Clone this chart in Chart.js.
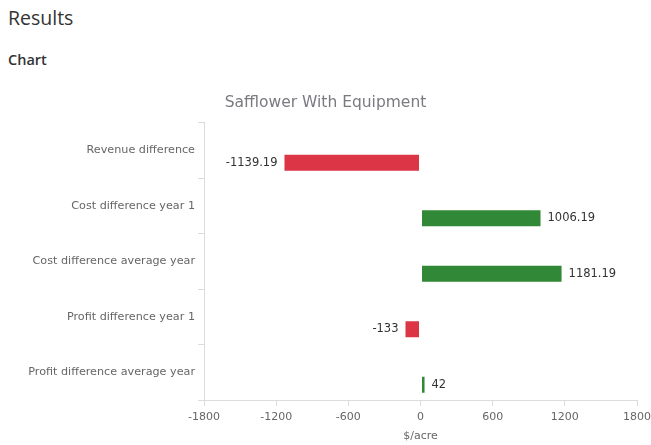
<!DOCTYPE html>
<html>
<head>
<meta charset="utf-8">
<script src="https://cdn.jsdelivr.net/npm/chart.js@4.4.0/dist/chart.umd.min.js"></script>
<style>
  html, body { margin: 0; padding: 0; background: #fff; overflow: hidden; width: 651px; height: 445px; }
  .head { position: absolute; left: 8px; top: 4px; font-family: "Open Sans", sans-serif; font-size: 19.5px; line-height: 28px; color: #333; }
  .sub { position: absolute; left: 8px; top: 50px; font-family: "Open Sans", sans-serif; font-size: 14.5px; font-weight: 600; line-height: 20px; color: #333; }
  #wrap { position: absolute; left: 0; top: 88px; width: 651px; height: 357px; }
</style>
</head>
<body>
<div class="head">Results</div>
<div class="sub">Chart</div>
<div id="wrap"><canvas id="resultChart"></canvas></div>
<script>
// chart data
const categories = ['Revenue difference', 'Cost difference year 1', 'Cost difference average year', 'Profit difference year 1', 'Profit difference average year'];
const diffValues = [-1139.19, 1006.19, 1181.19, -133, 42];
const xTicks = [-1800, -1200, -600, 0, 600, 1200, 1800];
const chartTitle = 'Safflower With Equipment';
const axisTitle = '$/acre';

const RED = '#dc3545';
const GREEN = '#318836';
const FONT = 'DejaVu Sans';

// empty first slot keeps the bars in the lower half of each band, like the original
const emptySlot = categories.map(() => null);

var valueLabels = {
  id: 'valueLabels',
  afterDatasetsDraw(chart) {
    const ctx = chart.ctx;
    const meta = chart.getDatasetMeta(1);
    ctx.save();
    ctx.font = '11.5px ' + FONT;
    ctx.fillStyle = '#333';
    ctx.textBaseline = 'middle';
    meta.data.forEach((bar, i) => {
      const v = diffValues[i];
      const lo = Math.min(bar.x, bar.base);
      const hi = Math.max(bar.x, bar.base);
      if (v < 0) {
        ctx.textAlign = 'right';
        ctx.fillText(String(v), lo - 6, bar.y);
      } else {
        ctx.textAlign = 'left';
        ctx.fillText(String(v), hi + 6, bar.y);
      }
    });
    ctx.restore();
  }
};

new Chart(document.getElementById('resultChart'), {
  type: 'bar',
  data: {
    labels: categories,
    datasets: [
      { data: emptySlot, categoryPercentage: 0.9, barPercentage: 0.72 },
      {
        data: diffValues,
        backgroundColor: diffValues.map(v => v < 0 ? RED : GREEN),
        borderColor: 'rgba(255,255,255,0.45)',
        borderWidth: 1,
        borderSkipped: false,
        categoryPercentage: 0.9,
        barPercentage: 0.72
      }
    ]
  },
  options: {
    indexAxis: 'y',
    responsive: true,
    maintainAspectRatio: false,
    animation: false,
    layout: { padding: 0 },
    plugins: {
      legend: { display: false },
      tooltip: { enabled: false },
      title: {
        display: true,
        text: chartTitle,
        color: '#7a7a80',
        font: { family: FONT, size: 15.5, weight: 'normal' },
        padding: { top: 6, bottom: 10 }
      }
    },
    scales: {
      x: {
        min: -1800,
        max: 1800,
        afterBuildTicks: s => { s.ticks = xTicks.map(v => ({ value: v })); },
        afterFit: s => { s.height = 45; s.paddingLeft = 0; s.paddingRight = 14; },
        grid: { drawOnChartArea: false, drawTicks: true, tickLength: 6, color: '#dcdcdc' },
        border: { display: true, color: '#dcdcdc' },
        ticks: {
          color: '#666',
          font: { family: FONT, size: 11 },
          padding: 5,
          maxRotation: 0,
          callback: v => String(v)
        },
        title: {
          display: true,
          text: axisTitle,
          color: '#666',
          font: { family: FONT, size: 11 },
          padding: { top: 0, bottom: 2 }
        }
      },
      y: {
        afterFit: s => { s.width = 204; s.paddingTop = 0; s.paddingBottom = 0; },
        grid: { drawOnChartArea: false, drawTicks: true, tickLength: 6, color: '#dcdcdc', offset: true },
        border: { display: true, color: '#dcdcdc' },
        ticks: {
          color: '#666',
          font: { family: FONT, size: 11.2 },
          padding: 3
        }
      }
    }
  },
  plugins: [valueLabels]
});
</script>
</body>
</html>
